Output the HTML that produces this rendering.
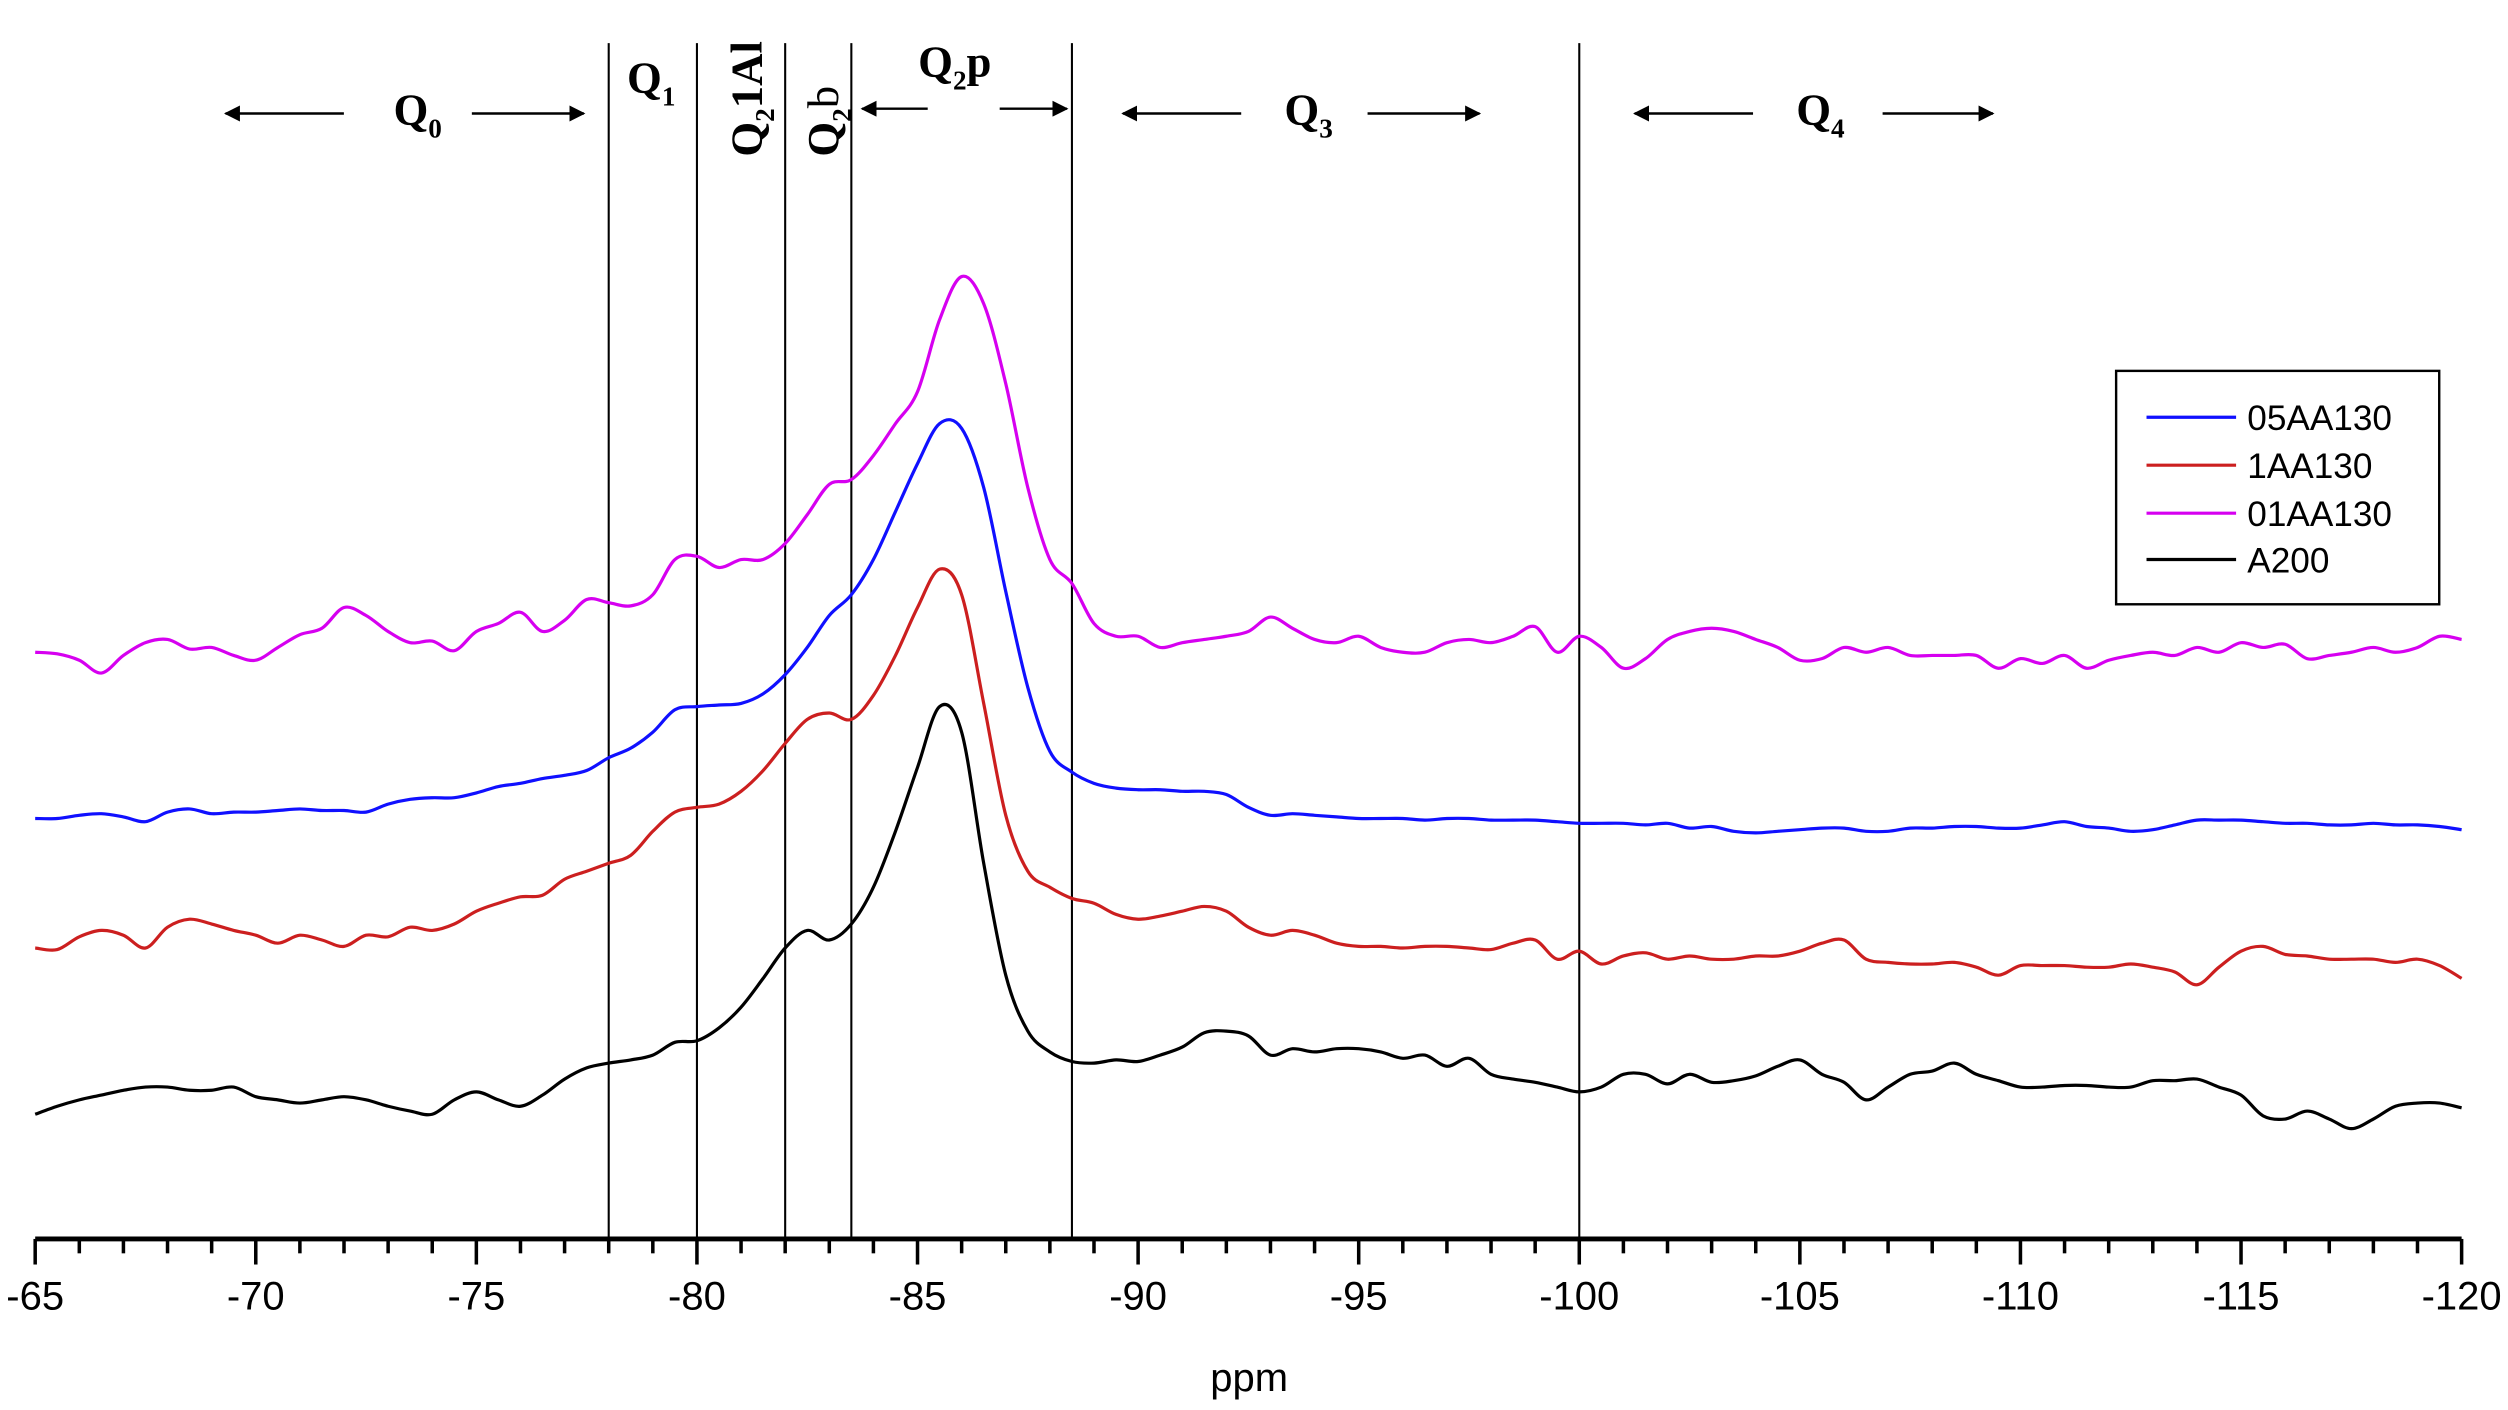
<!DOCTYPE html>
<html><head><meta charset="utf-8"><style>
html,body{margin:0;padding:0;background:#fff;}
svg{display:block;}
.tick{font-family:"Liberation Sans",sans-serif;font-size:25px;fill:#000;}
.q{font-family:"Liberation Serif",serif;font-weight:bold;font-size:28px;fill:#000;}
.qs{font-family:"Liberation Serif",serif;font-weight:bold;font-size:17px;fill:#000;}
.leg{font-family:"Liberation Sans",sans-serif;font-size:22px;fill:#000;}
</style></head><body>
<svg id="chart" width="2508" height="1410" viewBox="0 0 1568 882" preserveAspectRatio="none" xmlns="http://www.w3.org/2000/svg">
<defs><marker id="ah" markerWidth="10" markerHeight="10" refX="9" refY="5" orient="auto" markerUnits="userSpaceOnUse"><path d="M0,0 L10,5 L0,10 Z" fill="#000"/></marker></defs>
<g id="regions"></g>
<g id="series"></g>
<g id="axis"></g>
<text class="tick" x="781" y="870" text-anchor="middle" font-size="28">ppm</text>

<g>
  <line x1="215" y1="71" x2="141" y2="71" stroke="#000" stroke-width="1.5" marker-end="url(#ah)"/>
  <line x1="295" y1="71" x2="365" y2="71" stroke="#000" stroke-width="1.5" marker-end="url(#ah)"/>
  <text class="q" x="246" y="78">Q<tspan class="qs" dy="8">0</tspan></text>
  <text class="q" x="392" y="58">Q<tspan class="qs" dy="8">1</tspan></text>
  <text class="q" transform="translate(476,98) rotate(-90)">Q<tspan class="qs" dy="8">2</tspan><tspan dy="-8">1Al</tspan></text>
  <text class="q" transform="translate(524,98) rotate(-90)" font-weight="normal">Q<tspan class="qs" dy="8">2</tspan><tspan dy="-8" font-weight="normal">b</tspan></text>
  <text class="q" x="574" y="48" font-weight="normal">Q<tspan class="qs" dy="8">2</tspan><tspan dy="-8">p</tspan></text>
  <line x1="580" y1="68" x2="539" y2="68" stroke="#000" stroke-width="1.5" marker-end="url(#ah)"/>
  <line x1="625" y1="68" x2="667" y2="68" stroke="#000" stroke-width="1.5" marker-end="url(#ah)"/>
  <line x1="776" y1="71" x2="702" y2="71" stroke="#000" stroke-width="1.5" marker-end="url(#ah)"/>
  <line x1="855" y1="71" x2="925" y2="71" stroke="#000" stroke-width="1.5" marker-end="url(#ah)"/>
  <text class="q" x="803" y="78">Q<tspan class="qs" dy="8">3</tspan></text>
  <line x1="1096" y1="71" x2="1022" y2="71" stroke="#000" stroke-width="1.5" marker-end="url(#ah)"/>
  <line x1="1177" y1="71" x2="1246" y2="71" stroke="#000" stroke-width="1.5" marker-end="url(#ah)"/>
  <text class="q" x="1123" y="78">Q<tspan class="qs" dy="8">4</tspan></text>
</g>

<g>
  <rect x="1323" y="232" width="202" height="146" fill="#fff" stroke="#000" stroke-width="1.5"/>
  <g><line x1="1342" y1="261" x2="1398" y2="261" stroke="#1010ff" stroke-width="2"/><text class="leg" x="1405" y="269">05AA130</text></g>
  <g><line x1="1342" y1="291" x2="1398" y2="291" stroke="#cc1f1f" stroke-width="2"/><text class="leg" x="1405" y="299">1AA130</text></g>
  <g><line x1="1342" y1="321" x2="1398" y2="321" stroke="#d600f0" stroke-width="2"/><text class="leg" x="1405" y="329">01AA130</text></g>
  <g><line x1="1342" y1="350" x2="1398" y2="350" stroke="#000" stroke-width="2"/><text class="leg" x="1405" y="358">A200</text></g>
</g>
</svg>
<script>
// ppm grid: -65 to -120, step 0.5
const ppmStart = -65, ppmStep = -0.5;
const xTicks = [-65,-70,-75,-80,-85,-90,-95,-100,-105,-110,-115,-120];
const dividers = [-78,-80,-82,-83.5,-88.5,-100];
const seriesNames = ["01AA130","05AA130","1AA130","A200"];
const intensity01AA130 = [367,366,362,354,365,373,375,369,370,365, 362,370,378,382,395,390,380,373,374,368, 380,385,392,380,387,400,398,396,403,425, 427,420,425,425,435,453,472,475,490,510, 530,575,602,585,535,470,425,410,385,377, 377,370,373,375,377,380,389,382,375,373, 377,370,367,367,373,375,373,377,383,367, 377,370,357,363,375,380,382,380,375,370, 362,363,370,367,370,365,365,365,365,357, 363,360,365,357,362,365,367,365,370,367, 373,370,372,363,365,367,370,367,370,377, 375];
const intensity05AA130 = [263,263,265,266,264,261,267,269,266,267, 267,268,269,268,268,267,272,275,276,276, 279,283,285,288,290,293,301,307,317,331, 333,334,335,341,353,370,390,403,425,455, 485,510,507,470,405,345,305,292,285,282, 281,281,280,280,278,270,265,266,265,264, 263,263,263,262,263,263,262,262,262,261, 260,260,260,259,260,257,258,255,254,255, 256,257,257,255,255,257,257,258,258,257, 257,259,261,258,257,255,256,259,262,262, 262,261,260,260,259,259,260,259,259,258, 256];
const intensity1AA130 = [182,181,189,193,190,182,195,200,197,193, 190,185,190,187,183,190,189,195,193,197, 205,210,214,215,225,230,235,240,255,267, 270,272,280,293,310,325,329,325,340,365, 395,419,403,335,265,230,220,213,210,203, 200,202,205,208,205,195,190,193,190,185, 183,183,182,183,183,182,181,185,187,175, 180,172,177,179,175,177,175,175,177,177, 180,185,187,175,173,172,172,173,170,165, 171,171,171,170,170,172,170,167,159,170, 180,183,178,177,175,175,175,173,175,171, 163];
const intensityA200 = [78,83,87,90,93,95,95,93,93,95, 89,87,85,87,89,87,83,80,78,87, 92,87,83,90,100,107,110,112,115,123, 124,132,145,163,182,193,187,197,220,255, 295,333,317,235,165,130,117,111,110,112, 111,115,120,129,130,127,115,119,117,119, 119,117,113,115,108,113,103,100,98,95, 92,95,103,103,97,103,98,99,102,108, 112,103,98,87,95,103,105,110,103,99, 95,95,96,96,95,95,99,99,100,95, 90,77,75,80,75,69,75,83,85,85, 82];
const seriesData = [intensity01AA130, intensity05AA130, intensity1AA130, intensityA200];
const seriesColors = ["#d600f0","#1010ff","#cc1f1f","#000"];

const X0=22, X1=1539, AXY=775;
function xScale(p){ return X0 + (p - (-65)) / (-120 - (-65)) * (X1 - X0); }
function yScale(v){ return AXY - v; }
const NS="http://www.w3.org/2000/svg";
function mk(tag, attrs, parent){ const e=document.createElementNS(NS,tag); for(const k in attrs) e.setAttribute(k,attrs[k]); parent.appendChild(e); return e; }

const axis=document.getElementById('axis');
const al=mk('line',{x1:X0,y1:AXY,x2:X1,y2:AXY,stroke:'#000','stroke-width':3},axis);


for(let p=-65;p>=-120;p--){
  const major = (p % 5 === 0);
  const t=mk('line',{x1:xScale(p),y1:AXY,x2:xScale(p),y2:AXY+(major?16:9),stroke:'#000','stroke-width':2.2},axis);
  
  
}
xTicks.forEach(v=>{
  const t=mk('text',{x:xScale(v),y:819,'text-anchor':'middle',class:'tick'},axis);
  t.textContent=String(v);
  
  
});

const reg=document.getElementById('regions');
dividers.forEach(v=>{
  const l=mk('line',{x1:xScale(v),y1:27,x2:xScale(v),y2:AXY,stroke:'#000','stroke-width':1.3},reg);
  
  
});

const sg=document.getElementById('series');
seriesData.forEach((arr,si)=>{
  const pts=arr.map((v,i)=>[xScale(ppmStart+i*ppmStep), yScale(v)]);
  let d='M'+pts[0][0].toFixed(2)+','+pts[0][1].toFixed(2);
  for(let i=0;i<pts.length-1;i++){
    const p0=pts[Math.max(0,i-1)],p1=pts[i],p2=pts[i+1],p3=pts[Math.min(pts.length-1,i+2)];
    const c1=[p1[0]+(p2[0]-p0[0])/6,p1[1]+(p2[1]-p0[1])/6];
    const c2=[p2[0]-(p3[0]-p1[0])/6,p2[1]-(p3[1]-p1[1])/6];
    d+=' C'+c1[0].toFixed(2)+','+c1[1].toFixed(2)+' '+c2[0].toFixed(2)+','+c2[1].toFixed(2)+' '+p2[0].toFixed(2)+','+p2[1].toFixed(2);
  }
  const path=mk('path',{d:d,fill:'none',stroke:seriesColors[si],'stroke-width':2,'stroke-linejoin':'round'},sg);
  
  
});
</script>
</body></html>
